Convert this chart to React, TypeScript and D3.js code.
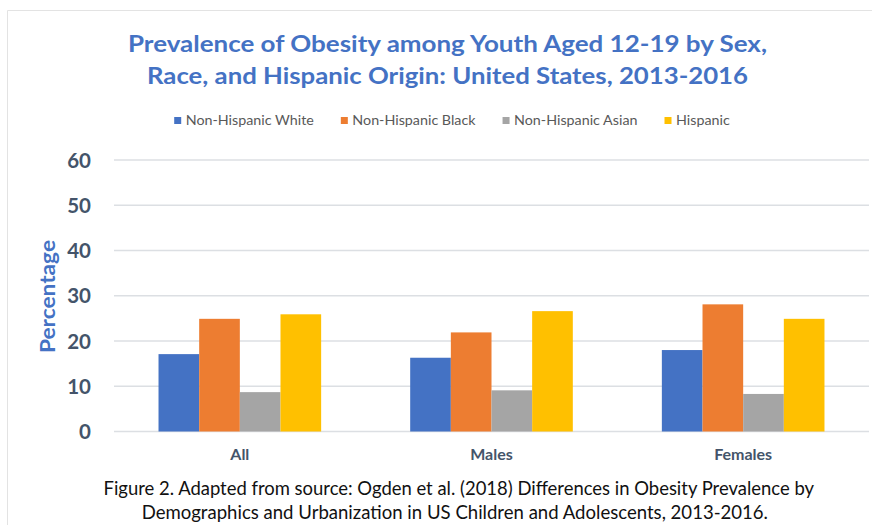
import React, { useEffect, useRef } from "react";
import * as d3 from "d3";

// Prevalence of obesity (%) among youth aged 12-19, 2013-2016
const categories = ["All", "Males", "Females"];
const seriesNames = ["Non-Hispanic White", "Non-Hispanic Black", "Non-Hispanic Asian", "Hispanic"];
const nonHispanicWhite = [17.1, 16.3, 18.0];
const nonHispanicBlack = [24.9, 21.9, 28.1];
const nonHispanicAsian = [8.7, 9.1, 8.3];
const hispanic = [25.9, 26.6, 24.9];
const yTicks = [0, 10, 20, 30, 40, 50, 60];

const titleLines = [
  "Prevalence of Obesity among Youth Aged 12-19 by Sex,",
  "Race, and Hispanic Origin: United States, 2013-2016",
];
const captionLines = [
  "Figure 2. Adapted from source: Ogden et al. (2018) Differences in Obesity Prevalence by",
  "Demographics and Urbanization in US Children and Adolescents, 2013-2016.",
];

const colors = ["#4472C4", "#ED7D31", "#A5A5A5", "#FFC000"];

const W = 872;
const H = 525;
const FONT = "Lato, 'Open Sans', sans-serif";

export default function App() {
  const ref = useRef<SVGSVGElement | null>(null);

  useEffect(() => {
    const svg = d3.select(ref.current);
    svg.selectAll("*").remove();

    const seriesValues = [nonHispanicWhite, nonHispanicBlack, nonHispanicAsian, hispanic];

    const plot = { left: 114, right: 869, top: 160, bottom: 431.5 };

    svg.append("rect").attr("width", W).attr("height", H).attr("fill", "#fff");

    // chart area frame (left and top edges)
    svg
      .append("path")
      .attr("d", `M7.5,${H} V10.5 H${W}`)
      .attr("fill", "none")
      .attr("stroke", "#E3E3E3")
      .attr("stroke-width", 1);

    const y = d3.scaleLinear().domain([0, 60]).range([plot.bottom, plot.top]);
    const x0 = d3.scaleBand<string>().domain(categories).range([plot.left, plot.right]).padding(0);
    const x1 = d3
      .scaleBand<string>()
      .domain(seriesNames)
      .range([0, x0.bandwidth()])
      .paddingInner(0)
      .paddingOuter(1.095);

    // gridlines
    svg
      .append("g")
      .selectAll("line")
      .data(yTicks)
      .join("line")
      .attr("x1", plot.left)
      .attr("x2", plot.right)
      .attr("y1", (d) => y(d))
      .attr("y2", (d) => y(d))
      .attr("stroke", "#DCDFE3")
      .attr("stroke-width", 1.5);

    // y tick labels
    svg
      .append("g")
      .selectAll("text")
      .data(yTicks)
      .join("text")
      .attr("x", 91)
      .attr("y", (d) => y(d) + 7.5)
      .attr("text-anchor", "end")
      .attr("font-family", FONT)
      .attr("font-weight", 700)
      .attr("font-size", 20.5)
      .attr("fill", "#44546A")
      .text((d) => String(d));

    // y axis title
    svg
      .append("text")
      .attr("transform", "translate(55,296.5) rotate(-90)")
      .attr("text-anchor", "middle")
      .attr("textLength", 113)
      .attr("lengthAdjust", "spacingAndGlyphs")
      .attr("font-family", FONT)
      .attr("font-weight", 700)
      .attr("font-size", 21.5)
      .attr("fill", "#4472C4")
      .text("Percentage");

    // bars
    const groups = svg
      .append("g")
      .selectAll("g")
      .data(categories)
      .join("g")
      .attr("transform", (c) => `translate(${x0(c)},0)`);

    groups
      .selectAll("rect")
      .data((c) => seriesNames.map((s, si) => ({ s, si, v: seriesValues[si][categories.indexOf(c as string)] })))
      .join("rect")
      .attr("x", (d) => x1(d.s) as number)
      .attr("width", x1.bandwidth())
      .attr("y", (d) => y(d.v))
      .attr("height", (d) => y(0) - y(d.v))
      .attr("fill", (d) => colors[d.si]);

    // category labels
    svg
      .append("g")
      .selectAll("text")
      .data(categories)
      .join("text")
      .attr("x", (c) => (x0(c) as number) + x0.bandwidth() / 2)
      .attr("y", 460)
      .attr("text-anchor", "middle")
      .attr("font-family", FONT)
      .attr("font-weight", 700)
      .attr("font-size", 16)
      .attr("fill", "#44546A")
      .text((c) => c);

    // title
    const titleSpans = [
      { x: 128, y: 52, len: 639 },
      { x: 147, y: 84, len: 601 },
    ];
    svg
      .append("g")
      .selectAll("text")
      .data(titleLines)
      .join("text")
      .attr("x", (_, i) => titleSpans[i].x)
      .attr("y", (_, i) => titleSpans[i].y)
      .attr("textLength", (_, i) => titleSpans[i].len)
      .attr("lengthAdjust", "spacingAndGlyphs")
      .attr("font-family", FONT)
      .attr("font-weight", 700)
      .attr("font-size", 23.5)
      .attr("fill", "#4472C4")
      .text((d) => d);

    // legend, laid out from measured label widths and centred
    const legend = svg.append("g");
    const items = legend.selectAll("g").data(seriesNames).join("g");
    items
      .append("rect")
      .attr("width", 7)
      .attr("height", 7)
      .attr("y", 117)
      .attr("fill", (_, i) => colors[i]);
    const labels = items
      .append("text")
      .attr("x", 11.5)
      .attr("y", 124.5)
      .attr("font-family", FONT)
      .attr("font-size", 14.3)
      .attr("fill", "#595959")
      .text((d) => d);
    const widths: number[] = [];
    labels.each(function () {
      widths.push((this as SVGTextElement).getComputedTextLength());
    });
    const gap = 27;
    const itemW = widths.map((w) => 11.5 + w);
    const total = d3.sum(itemW) + gap * (itemW.length - 1);
    let cx = 452 - total / 2;
    items.attr("transform", (_, i) => {
      const t = `translate(${cx},0)`;
      cx += itemW[i] + gap;
      return t;
    });

    // caption
    const captionSpans = [
      { x: 103.5, y: 495, len: 710.5 },
      { x: 141.7, y: 519, len: 626.3 },
    ];
    svg
      .append("g")
      .selectAll("text")
      .data(captionLines)
      .join("text")
      .attr("x", (_, i) => captionSpans[i].x)
      .attr("y", (_, i) => captionSpans[i].y)
      .attr("textLength", (_, i) => captionSpans[i].len)
      .attr("lengthAdjust", "spacingAndGlyphs")
      .attr("font-family", FONT)
      .attr("font-size", 18.5)
      .attr("fill", "#111")
      .text((d) => d);
  }, []);

  return (
    <div style={{ position: "absolute", left: 0, top: 0 }}>
      <svg ref={ref} width={W} height={H} style={{ display: "block" }} />
    </div>
  );
}
